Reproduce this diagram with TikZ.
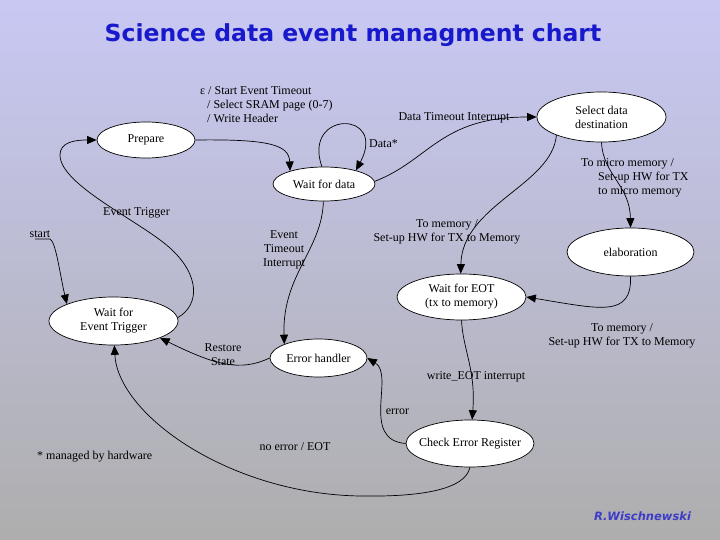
\documentclass[tikz,border=0pt]{standalone}
\usepackage{fontspec}
\setmainfont{Liberation Serif}
\newfontfamily\titlefont{DejaVu Sans}[ItalicFont={DejaVu Sans Oblique}, BoldItalicFont={DejaVu Sans Bold Oblique}]
\usetikzlibrary{arrows.meta}
\usetikzlibrary{shapes.geometric}
\definecolor{bgtop}{RGB}{200,200,244}
\definecolor{bgbot}{RGB}{174,174,174}
\definecolor{titleblue}{RGB}{24,24,204}
\definecolor{authorblue}{RGB}{60,60,200}
\tikzset{
	>={Triangle[length=9.5pt,width=8pt]},
	zustand/.style={
		ellipse,
		% size comes from minimum width/height only
		draw=black, line width=0.7pt,
		fill=white,
		inner sep=-40pt,
		align=center},
	uebergang/.style={draw, line width=0.7pt, ->},
	etikett/.style={inner sep=0pt},
}

\begin{document}
\begin{tikzpicture}
	[x=1pt, y=1pt, font=\fontsize{12}{14}\selectfont]
	\shade[top color=bgtop, bottom color=bgbot] (0,0) rectangle (720,-540);
	\node[font=\titlefont\bfseries\fontsize{23.5}{28}\selectfont, text=titleblue] (titel) at (353,-35) {Science data event managment chart};

	\node[zustand, minimum width=98pt, minimum height=36pt] (prep) at (146,-140) {Prepare};
	\node[zustand, minimum width=102pt, minimum height=34pt] (wait) at (324,-184) {Wait for data};
	\node[zustand, minimum width=129pt, minimum height=50pt] (sel) at (601.5,-117) {Select data\\destination};
	\node[zustand, minimum width=127pt, minimum height=48pt] (elab) at (630.5,-252) {elaboration};
	\node[zustand, minimum width=129pt, minimum height=46pt] (eot) at (461.5,-297) {Wait for EOT\\(tx to memory)};
	\node[zustand, minimum width=129pt, minimum height=48pt] (wfet) at (113.5,-321) {Wait for\\Event Trigger};
	\node[zustand, minimum width=97pt, minimum height=38pt] (err) at (318.5,-358) {Error handler};
	\node[zustand, minimum width=128pt, minimum height=47pt] (chk) at (470,-443.5) {Check Error Register};

	\node[etikett] (start) at (40,-234) {start};
	\coordinate (startpunkt) at (35,-239);

	\draw[uebergang] (prep.east) .. controls (270,-139) and (289,-145) .. (wait.159);
	\draw[uebergang] (wait.97) .. controls (302,-110) and (388,-110) .. (wait.23);
	\draw[uebergang] (wait.3) .. controls (430,-160) and (440,-117) .. (sel.west);
	\draw[uebergang] (sel.202) .. controls (552,-185) and (462,-205) .. (eot.92);
	\draw[uebergang] (sel.south) .. controls (603,-175) and (630,-185) .. (elab.north);
	\draw[uebergang] (elab.south) .. controls (632,-318) and (600,-309) .. (eot.east);
	\draw[uebergang] (eot.south) .. controls (463,-350) and (476,-370) .. (chk.85);
	\draw[uebergang] (chk.west) .. controls (360,-440) and (395,-375) .. (err.east);
	\draw[uebergang] (chk.south) .. controls (465,-490) and (420,-497) .. (360,-496)
		.. controls (230,-494) and (118,-415) .. (wfet.272);
	\draw[uebergang] (wait.268) .. controls (322,-250) and (282,-275) .. (err.158);
	\draw[uebergang] (err.west) .. controls (240,-372) and (215,-365) .. (wfet.340);
	\draw[uebergang] (wfet.3) .. controls (200,-305) and (200,-275) .. (170,-248)
		.. controls (140,-221) and (60,-185) .. (60,-155)
		.. controls (60,-142) and (75,-140) .. (prep.west);
	\draw[uebergang] (startpunkt) -- ++(15,0) .. controls (56,-242) and (60,-275) .. (wfet.160);

	\node[etikett, align=left, anchor=west] (lprep) at (200,-105) {ε / Start Event Timeout\\\hspace*{7pt}/ Select SRAM page (0-7)\\\hspace*{7pt}/ Write Header};
	\node[etikett, anchor=west] (ldata) at (369,-144) {Data*};
	\node[etikett] (ltimeout) at (454,-118) {Data Timeout Interrupt};
	\node[etikett, align=center] (lmem) at (447,-232) {To memory /\\Set-up HW for TX to Memory};
	\node[etikett, align=left, anchor=west] (lmicro) at (581,-178) {To micro memory /\\\hspace*{17pt}Set-up HW for TX\\\hspace*{17pt}to micro memory};
	\node[etikett, align=center] (lmem2) at (622,-336) {To memory /\\Set-up HW for TX to Memory};
	\node[etikett] (lwrite) at (476,-376.5) {write\_EOT interrupt};
	\node[etikett] (lerror) at (397.5,-412) {error};
	\node[etikett] (lnoerr) at (295,-447) {no error / EOT};
	\node[etikett, align=center] (levto) at (284,-249.5) {Event\\Timeout\\Interrupt};
	\node[etikett, align=center] (lrest) at (223,-354.5) {Restore\\State};
	\node[etikett] (ltrig) at (136.5,-213) {Event Trigger};

	\node[etikett, anchor=west] (fussnote) at (37,-456.5) {* managed by hardware};
	\node[font=\titlefont\bfseries\itshape\fontsize{11.5}{14}\selectfont, text=authorblue] (autor) at (642.5,-516) {R.Wischnewski};
\end{tikzpicture}
\end{document}
